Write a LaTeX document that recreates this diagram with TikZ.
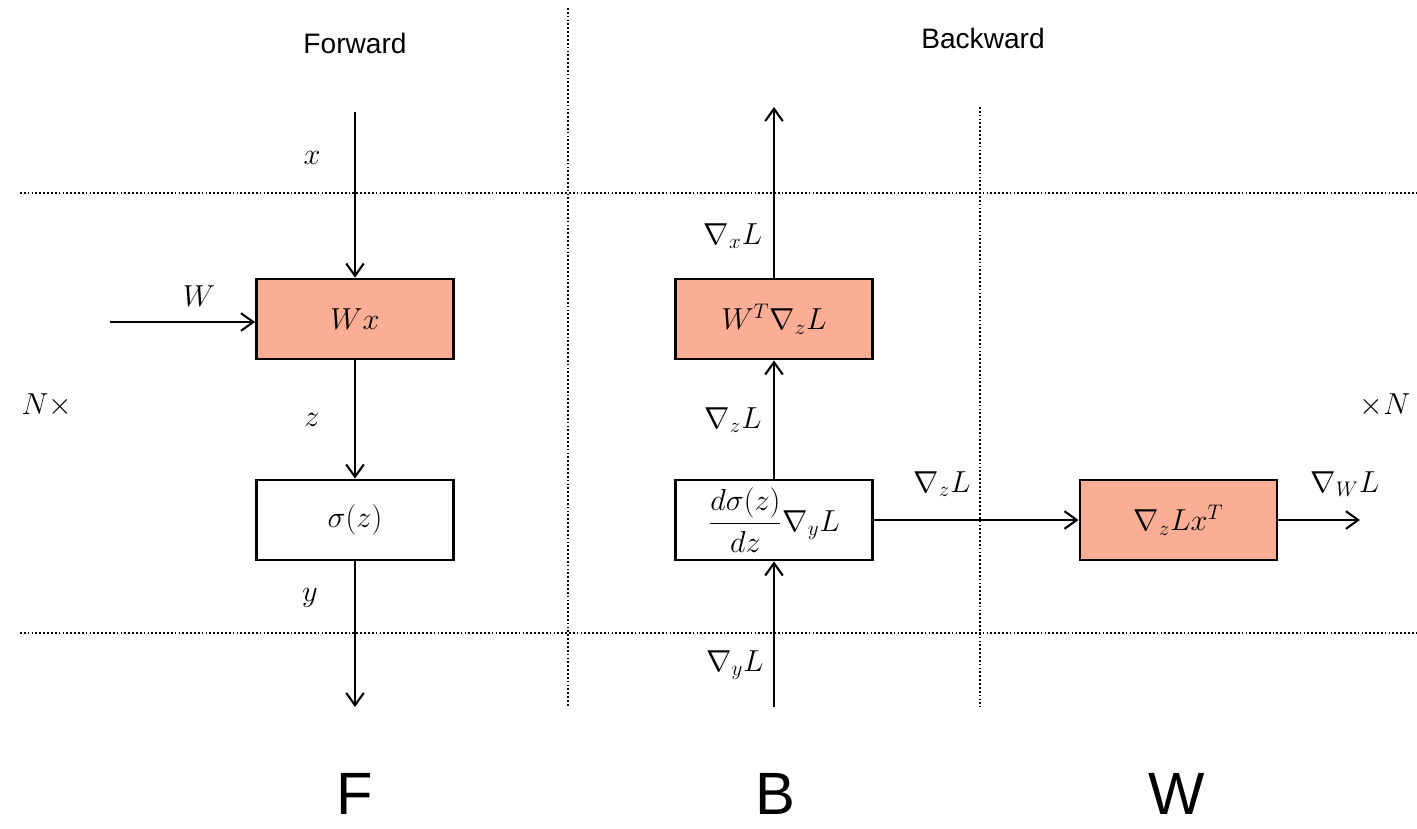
\documentclass[tikz,border=0pt]{standalone}
\usepackage{fontspec}
\setsansfont{Liberation Sans}
\usetikzlibrary{arrows.meta}

\definecolor{saumon}{RGB}{251,173,149}

\tikzset{boite/.style = {draw, line width=1.6pt, minimum width=3.94cm, minimum height=1.6cm,
                         inner sep=0pt, font=\fontsize{18}{22}\selectfont},
         pleine/.style = {boite, fill=saumon},
         fleche/.style = {-{Straight Barb[length=7pt,width=10pt]}, line width=1.2pt},
         sep/.style = {line width=1pt, dash pattern=on 1pt off 1.2pt},
         lab/.style = {font=\fontsize{18}{22}\selectfont},
         titre/.style = {font=\sffamily\fontsize{16}{20}\selectfont},
         lettre/.style = {anchor=base, inner sep=0pt, font=\sffamily\fontsize{34}{38}\selectfont}
        }

\begin{document}
\begin{tikzpicture}
\useasboundingbox (0,0) rectangle (28.34,-16.56);
% separations
\draw[sep] (0.4,-3.86) -- (28.34,-3.86);
\draw[sep] (0.4,-12.66) -- (28.34,-12.66);
\draw[sep] (11.36,-0.16) -- (11.36,-14.14);
\draw[sep] (19.6,-2.14) -- (19.6,-14.14);

\node[titre] at (7.1,-0.86) (fwd) {Forward};
\node[titre] at (19.66,-0.76) (bwd) {Backward};

% forward
\node[pleine] at (7.1,-6.38) (wx) {$Wx$};
\node[boite] at (7.1,-10.4) (sig) {$\sigma(z)$};
\coordinate (xin) at (7.1,-2.24);
\coordinate (win) at (2.2,-6.44);
\coordinate (yout) at (7.1,-14.14);
\draw[fleche] (xin) -- (wx);
\draw[fleche] (win) -- (win -| wx.west);
\draw[fleche] (wx) -- (sig);
\draw[fleche] (sig) -- (yout);
\node[lab] at (6.24,-3.16) (lx) {$x$};
\node[lab] at (3.98,-5.92) (lw) {$W$};
\node[lab] at (6.24,-8.4) (lz) {$z$};
\node[lab] at (6.2,-11.96) (ly) {$y$};

% backward
\node[pleine] at (15.48,-6.38) (wt) {$W^T\nabla_z L$};
\node[boite] at (15.48,-10.4) (dsig) {$\displaystyle\frac{d\sigma(z)}{dz}\nabla_y L$};
\node[pleine] at (23.57,-10.4) (gw) {$\nabla_z L x^T$};
\coordinate (gxout) at (15.48,-2.14);
\coordinate (gyin) at (15.48,-14.14);
\coordinate (gwout) at (27.2,-10.4);
\draw[fleche] (gyin) -- (dsig);
\draw[fleche] (dsig) -- (wt);
\draw[fleche] (wt) -- (gxout);
\draw[fleche] (dsig) -- (gw);
\draw[fleche] (gw) -- (gwout);
\node[lab] at (14.66,-4.72) (lgx) {$\nabla_x L$};
\node[lab] at (14.66,-8.4) (lgz) {$\nabla_z L$};
\node[lab] at (14.7,-13.3) (lgy) {$\nabla_y L$};
\node[lab] at (18.84,-9.68) (lgz2) {$\nabla_z L$};
\node[lab] at (26.9,-9.68) (lgw) {$\nabla_W L$};

\node[lab] at (0.94,-8.1) (nl) {$N\times$};
\node[lab] at (27.7,-8.1) (nr) {$\times N$};

\node[lettre] at (7.1,-16.28) (f) {F};
\node[lettre] at (15.5,-16.28) (b) {B};
\node[lettre] at (23.54,-16.28) (w) {W};
\end{tikzpicture}
\end{document}
